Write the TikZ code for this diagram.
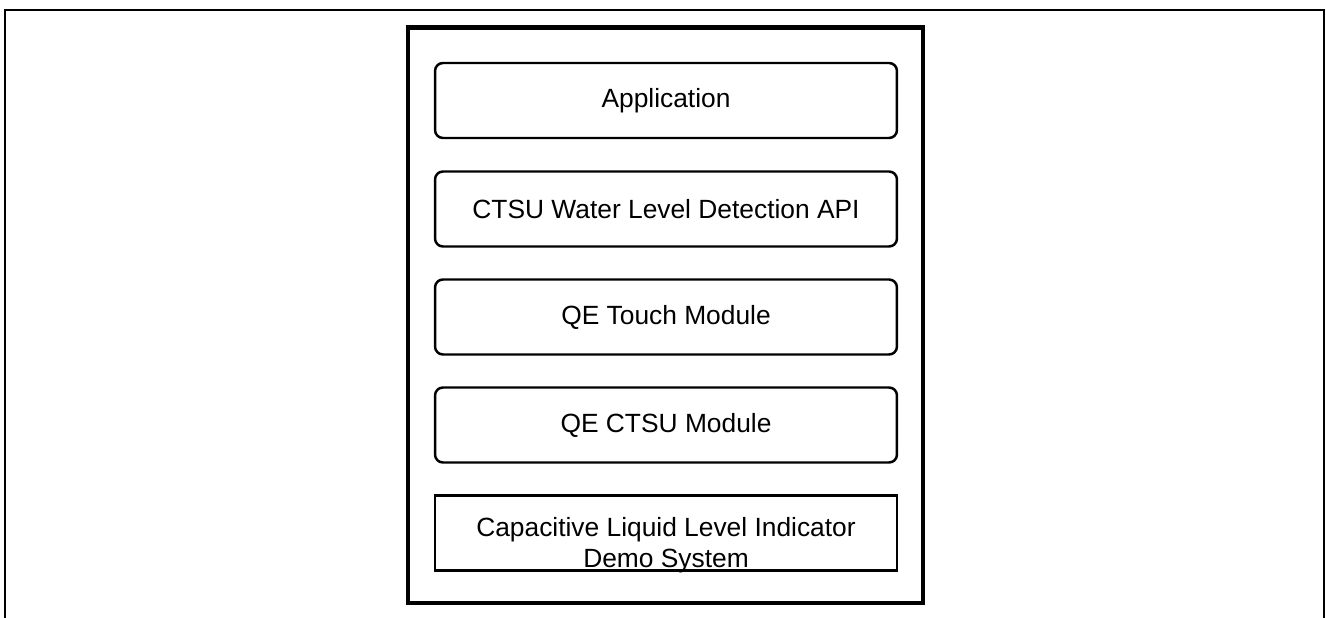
\documentclass[tikz,border=0pt]{standalone}
\usepackage{fontspec}
\setmainfont{Liberation Sans}
\begin{document}
\begin{tikzpicture}
      [%%%%%%%%%%%%%%%%%%%%%%%%%%%%%%
      x=0.02cm, y=-0.02cm,
      txt/.style={font=\fontsize{15}{18}\selectfont},
      layer/.style={rectangle,draw=black,line width=1.4pt,rounded corners=4.5pt,
        minimum width=9.24cm,minimum height=1.5cm,txt},
      base/.style={layer,rounded corners=0pt,line width=1.2pt},
      ]%%%%%%%%%%%%%%%%%%%%%%%%%%%%%%

      \useasboundingbox (0,0) rectangle (1326,618);

      % outer frame, open at the bottom
      \draw[line width=1pt] (5,618) -- (5,10) -- (1324,10) -- (1324,618);

      % stack frame
      \draw[line width=2.8pt] (408,27.5) rectangle (923,603);

      \node[layer] (app)   at (666,100.5) {Application};
      \node[layer] (api)   at (666,209)   {CTSU Water Level Detection API};
      \node[layer] (touch) at (666,317)   {QE Touch Module};
      \node[layer] (ctsu)  at (666,425)   {QE CTSU Module};

      \node[base] (demo) at (666,533) {};
      \node[txt,align=center] (demotext) at (666,545)
        {Capacitive Liquid Level Indicator\\Demo System};
    \end{tikzpicture}
\end{document}
